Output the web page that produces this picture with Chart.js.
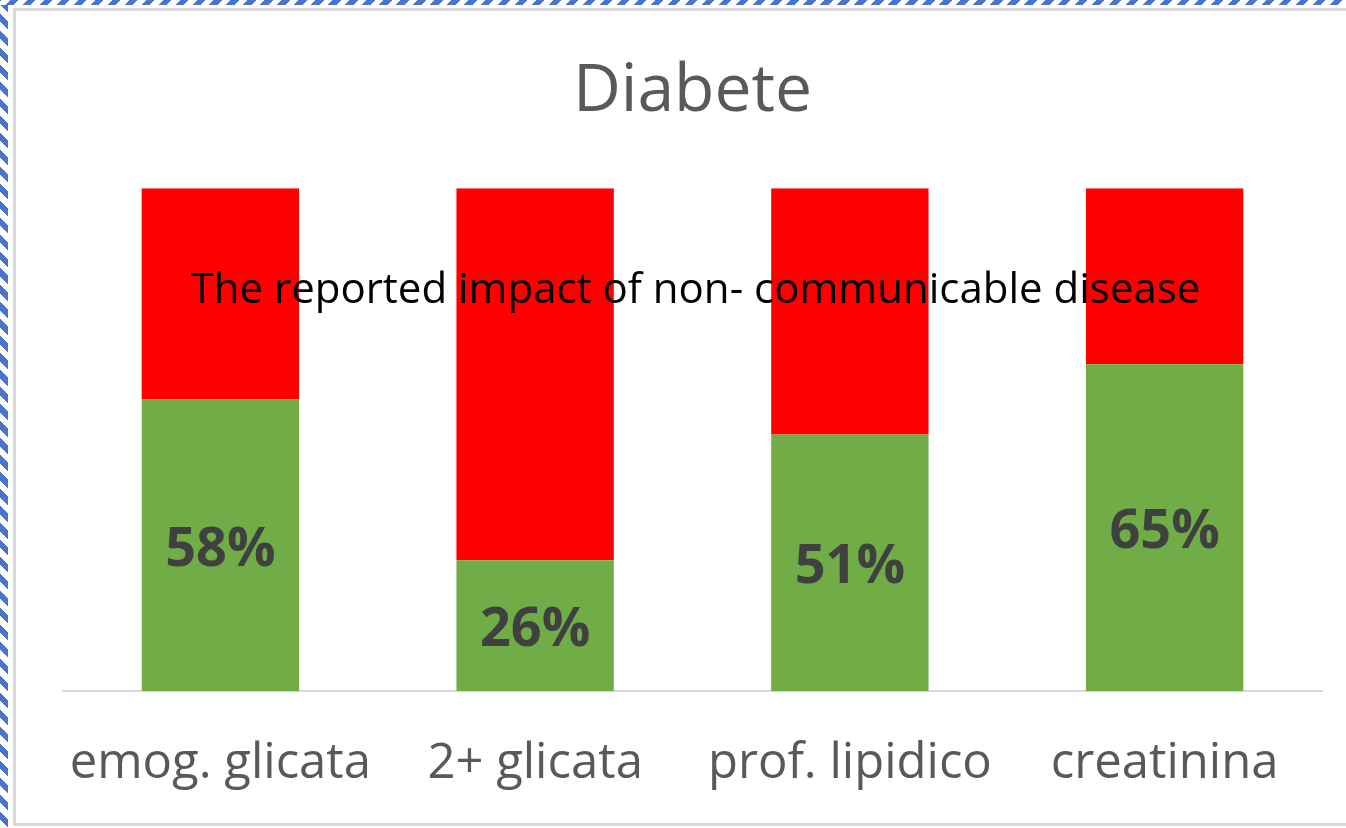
<!DOCTYPE html>
<html>
<head>
<meta charset="utf-8">
<script src="https://cdn.jsdelivr.net/npm/chart.js@4"></script>
<style>
  html, body { margin: 0; padding: 0; background: #fff; }
  #wrap { position: relative; width: 1346px; height: 828px; overflow: hidden; background: #fff; }
  #stripeL { position: absolute; left: 0; top: 0; width: 8px; height: 828px;
    background: repeating-linear-gradient(45deg, #ffffff 0 6px, #4a74cc 6px 12px); }
  #stripeT { position: absolute; left: 0; top: 0; width: 1346px; height: 5px;
    background: repeating-linear-gradient(-45deg, #ffffff 0 6px, #4a74cc 6px 12px); }
  #frame { position: absolute; left: 13px; top: 8px; width: 1400px; height: 818px;
    border: 3px solid #d9d9d9; box-sizing: border-box; }
  canvas { position: absolute; left: 0; top: 0; }
</style>
</head>
<body>
<div id="wrap">
  <div id="stripeL"></div>
  <div id="stripeT"></div>
  <div id="frame"></div>
  <canvas id="c" width="1346" height="828"></canvas>
</div>
<script>
const categories = ["emog. glicata", "2+ glicata", "prof. lipidico", "creatinina"];
const greenValues = [58, 26, 51, 65];
const redValues = [42, 74, 49, 35];
const chartTitle = "Diabete";
const overlayText = "The reported impact of non- communicable disease";

const labelPlugin = {
  id: 'labels',
  afterDatasetsDraw(chart) {
    const ctx = chart.ctx;
    const meta = chart.getDatasetMeta(0);
    ctx.save();
    ctx.font = 'bold 54px "Open Sans"';
    ctx.fillStyle = '#404040';
    ctx.textAlign = 'center';
    ctx.textBaseline = 'middle';
    meta.data.forEach((bar, i) => {
      const cy = (bar.y + bar.base) / 2 + 5;
      ctx.fillText(greenValues[i] + '%', bar.x, cy);
    });
    ctx.restore();
  },
  afterDraw(chart) {
    const ctx = chart.ctx;
    const a = chart.chartArea;
    const ys = chart.scales.y;
    ctx.save();
    ctx.font = '42px "Open Sans"';
    ctx.fillStyle = '#000000';
    ctx.textAlign = 'center';
    ctx.textBaseline = 'middle';
    ctx.fillText(overlayText, (a.left + a.right) / 2 + 3, ys.getPixelForValue(80) + 2);
    ctx.restore();
  }
};

new Chart(document.getElementById('c'), {
  type: 'bar',
  data: {
    labels: categories,
    datasets: [
      { data: greenValues, backgroundColor: '#70ad47', borderWidth: 0 },
      { data: redValues, backgroundColor: '#ff0000', borderWidth: 0 }
    ]
  },
  options: {
    responsive: false,
    animation: false,
    layout: { padding: { left: 63, right: 24, top: 0, bottom: 0 } },
    datasets: { bar: { barPercentage: 0.5, categoryPercentage: 1.0 } },
    plugins: {
      legend: { display: false },
      tooltip: { enabled: false },
      title: {
        display: true,
        text: chartTitle,
        color: '#595959',
        font: { family: 'Open Sans', size: 66, weight: 'normal', lineHeight: 1.2 },
        padding: { top: 53, bottom: 56 }
      }
    },
    scales: {
      x: {
        stacked: true,
        grid: { display: false, drawTicks: false },
        border: { display: true, color: '#d9d9d9', width: 2 },
        ticks: { color: '#595959', font: { family: 'Open Sans', size: 49 }, padding: 44, maxRotation: 0 },
        afterFit(scale) { scale.height = 137; }
      },
      y: {
        stacked: true,
        display: false,
        min: 0,
        max: 100
      }
    }
  },
  plugins: [labelPlugin]
});
</script>
</body>
</html>
